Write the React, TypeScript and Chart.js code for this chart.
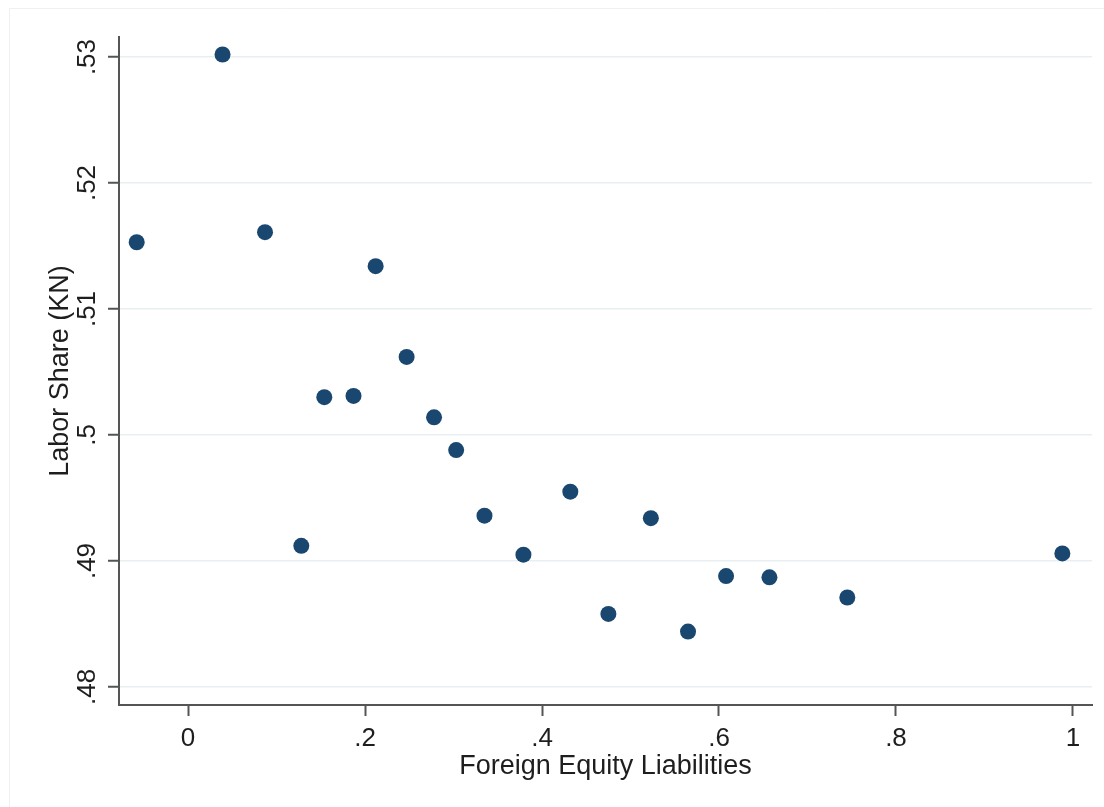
import React, { useEffect, useRef } from "react";
import { Chart, registerables } from "chart.js";

Chart.register(...registerables);

const xValues = [-0.058, 0.039, 0.087, 0.128, 0.154, 0.187, 0.212, 0.247, 0.278, 0.303, 0.335, 0.379, 0.432, 0.475, 0.523, 0.565, 0.608, 0.657, 0.745, 0.988];
const yValues = [0.5153, 0.5302, 0.5161, 0.4912, 0.503, 0.5031, 0.5134, 0.5062, 0.5014, 0.4988, 0.4936, 0.4905, 0.4955, 0.4858, 0.4934, 0.4844, 0.4888, 0.4887, 0.4871, 0.4906];
const xTicks = [0, 0.2, 0.4, 0.6, 0.8, 1];
const xTickLabels = ["0", ".2", ".4", ".6", ".8", "1"];
const yTicks = [0.48, 0.49, 0.5, 0.51, 0.52, 0.53];
const yTickLabels = [".48", ".49", ".5", ".51", ".52", ".53"];
const xTitle = "Foreign Equity Liabilities";
const yTitle = "Labor Share (KN)";

const FONT = '"Liberation Sans", Arial, sans-serif';
const TEXT = "#1e1e1e";
const AXIS = "#555555";

const yLabelPlugin = {
  id: "yRotatedLabels",
  beforeDraw(chart: any) {
    const { ctx, width, height } = chart;
    ctx.save();
    ctx.strokeStyle = "#f0f0f0";
    ctx.lineWidth = 1;
    ctx.beginPath();
    ctx.moveTo(9.5, height);
    ctx.lineTo(9.5, 8.5);
    ctx.lineTo(width, 8.5);
    ctx.stroke();
    ctx.restore();
  },
  afterDraw(chart: any) {
    const { ctx } = chart;
    const ys = chart.scales.y;
    ctx.save();
    ctx.font = `26px ${FONT}`;
    ctx.fillStyle = TEXT;
    ctx.textAlign = "center";
    ctx.textBaseline = "middle";
    yTicks.forEach((v, i) => {
      const py = ys.getPixelForValue(v);
      ctx.save();
      ctx.translate(ys.right - 31, py);
      ctx.rotate(-Math.PI / 2);
      ctx.fillText(yTickLabels[i], 0, 0);
      ctx.restore();
    });
    ctx.restore();
  },
};

export default function App() {
  const ref = useRef<HTMLCanvasElement | null>(null);
  useEffect(() => {
    if (!ref.current) return;
    const chart = new Chart(ref.current, {
      type: "scatter",
      data: {
        datasets: [
          {
            data: xValues.map((x, i) => ({ x, y: yValues[i] })),
            backgroundColor: "#1a476f",
            borderColor: "#1a476f",
            borderWidth: 0,
            pointRadius: 8,
            pointHoverRadius: 8,
          },
        ],
      },
      options: {
        responsive: false,
        animation: false,
        events: [],
        layout: { padding: { top: 37, right: 12, left: 0, bottom: 0 } },
        plugins: { legend: { display: false }, tooltip: { enabled: false } },
        scales: {
          x: {
            type: "linear",
            min: -0.078,
            max: 1.0215,
            afterFit: (s: any) => {
              s.height = 102;
            },
            afterBuildTicks: (s: any) => {
              s.ticks = xTicks.map((v) => ({ value: v }));
            },
            ticks: {
              callback: (_v: any, i: number) => xTickLabels[i],
              font: { family: FONT, size: 26 },
              color: TEXT,
              padding: 7,
              maxRotation: 0,
              autoSkip: false,
            },
            grid: {
              drawOnChartArea: false,
              drawTicks: true,
              tickLength: 11,
              tickColor: AXIS,
              tickWidth: 2,
            },
            border: { display: true, color: AXIS, width: 2 },
            title: {
              display: true,
              text: xTitle,
              font: { family: FONT, size: 27 },
              color: TEXT,
              padding: { top: 0, bottom: 24 },
            },
          },
          y: {
            type: "linear",
            min: 0.47857,
            max: 0.53159,
            afterFit: (s: any) => {
              s.width = 119;
            },
            afterBuildTicks: (s: any) => {
              s.ticks = yTicks.map((v) => ({ value: v }));
            },
            ticks: { display: false },
            grid: {
              drawOnChartArea: true,
              color: "#e7eff1",
              lineWidth: 1.5,
              drawTicks: true,
              tickLength: 11,
              tickColor: AXIS,
              tickWidth: 2,
            },
            border: { display: true, color: AXIS, width: 2 },
            title: {
              display: true,
              text: yTitle,
              font: { family: FONT, size: 27 },
              color: TEXT,
              padding: { top: 44, bottom: 0 },
            },
          },
        },
      },
      plugins: [yLabelPlugin],
    });
    return () => chart.destroy();
  }, []);
  return (
    <div style={{ position: "absolute", left: 0, top: 0, width: 1104, height: 807, background: "#fff" }}>
      <canvas ref={ref} width={1104} height={807} style={{ display: "block" }} />
    </div>
  );
}
